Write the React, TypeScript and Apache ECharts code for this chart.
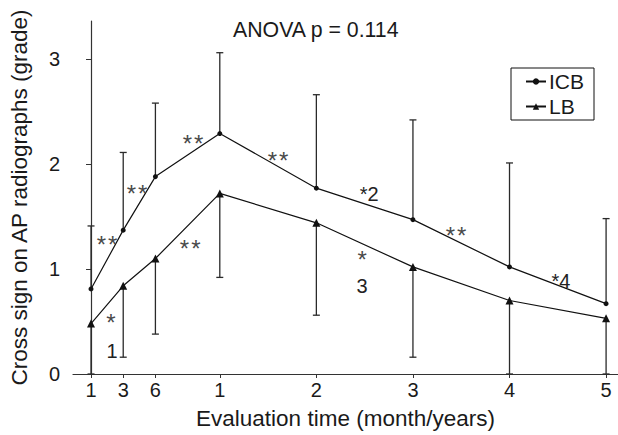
import React, { useEffect, useRef } from 'react';
import * as echarts from 'echarts';

// Evaluation times: 1, 3, 6 months, then 1..5 years
const timeLabels = ['1', '3', '6', '1', '2', '3', '4', '5'];
// slot of each evaluation time along the (non-linear) time axis
const timeSlots = [0, 1, 2, 4, 7, 10, 13, 16];

const icbMean = [0.81, 1.37, 1.88, 2.29, 1.77, 1.47, 1.02, 0.67];
const icbUpper = [1.41, 2.11, 2.58, 3.06, 2.66, 2.42, 2.01, 1.48];
const lbMean = [0.48, 0.84, 1.1, 1.72, 1.44, 1.02, 0.7, 0.53];
const lbLower = [0, 0.16, 0.38, 0.92, 0.56, 0.16, 0, 0];

const yTicks = [0, 1, 2, 3];

const annotationTexts = ['**', '**', '**', '**', '*2', '**', '*4', '*', '1', '**', '*', '3'];
const annotationX = [0.5, 1.43, 3.17, 5.81, 8.64, 11.34, 14.6, 0.62, 0.65, 3.08, 8.42, 8.42];
const annotationY = [1.23, 1.72, 2.2, 2.03, 1.71, 1.32, 0.89, 0.49, 0.22, 1.2, 1.09, 0.84];

const FONT = '"Liberation Sans", Arial, Helvetica, sans-serif';

export default function App() {
  const ref = useRef<HTMLDivElement>(null);

  useEffect(() => {
    if (!ref.current) return;
    const chart = echarts.init(ref.current, null, { renderer: 'svg' });

    const icbLine = timeSlots.map((s, i) => [s, icbMean[i]]);
    const lbLine = timeSlots.map((s, i) => [s, lbMean[i]]);
    const errData = [
      ...timeSlots.map((s, i) => [s, icbMean[i], icbUpper[i], 1]),
      ...timeSlots.map((s, i) => [s, lbLower[i], lbMean[i], 0]),
    ];
    const annData = annotationTexts.map((_, i) => [annotationX[i], annotationY[i], i]);

    const option: any = {
      animation: false,
      backgroundColor: '#fff',
      textStyle: { fontFamily: FONT },
      title: {
        text: 'ANOVA p = 0.114',
        left: 233,
        top: 19,
        padding: 0,
        textStyle: { fontSize: 21.3, fontWeight: 'normal', color: '#1a1a1a', fontFamily: FONT },
      },
      legend: {
        data: ['ICB', 'LB'],
        orient: 'vertical',
        left: 511,
        top: 68,
        padding: [3, 10, 3, 14],
        itemGap: 4,
        itemWidth: 20,
        itemHeight: 8,
        borderColor: '#111',
        borderWidth: 1,
        textStyle: { fontSize: 21, color: '#1a1a1a', fontFamily: FONT, padding: [0, 0, 0, -2] },
      },
      grid: { left: 73, right: 0, top: 21, bottom: 61, containLabel: false, outerBoundsMode: 'none' },
      xAxis: {
        type: 'value',
        min: -0.56,
        max: 16.37,
        name: 'Evaluation time (month/years)',
        nameLocation: 'middle',
        nameGap: 33,
        nameTextStyle: { fontSize: 22.5, color: '#1a1a1a', fontFamily: FONT },
        axisLine: { show: true, lineStyle: { color: '#333', width: 1.2 } },
        axisTick: { show: true, length: 4, customValues: timeSlots, lineStyle: { color: '#333' } },
        axisLabel: {
          customValues: timeSlots,
          margin: 6,
          fontSize: 20,
          color: '#1a1a1a',
          fontFamily: FONT,
          formatter: (v: number) => timeLabels[timeSlots.indexOf(v)] ?? '',
        },
        splitLine: { show: false },
      },
      yAxis: {
        type: 'value',
        min: 0,
        max: 3.362,
        name: 'Cross sign on AP radiographs (grade)',
        nameLocation: 'middle',
        nameGap: 42,
        nameTextStyle: { fontSize: 22.5, color: '#1a1a1a', fontFamily: FONT },
        axisLine: { show: true, lineStyle: { color: '#333', width: 1.2 } },
        axisTick: { show: true, length: 5, customValues: yTicks, lineStyle: { color: '#333' } },
        axisLabel: {
          customValues: yTicks,
          margin: 13,
          fontSize: 20,
          color: '#1a1a1a',
          fontFamily: FONT,
        },
        splitLine: { show: false },
      },
      series: [
        {
          type: 'custom',
          name: 'errors',
          clip: false,
          silent: true,
          z: 1,
          data: errData,
          encode: { x: 0, y: [1, 2] },
          renderItem: (params: any, api: any) => {
            const x = api.value(0);
            const lo = api.value(1);
            const hi = api.value(2);
            const capTop = api.value(3) === 1;
            const p1 = api.coord([x, lo]);
            const p2 = api.coord([x, hi]);
            const capY = capTop ? p2[1] : p1[1];
            const style = { stroke: '#2a2a2a', lineWidth: 1.3 };
            return {
              type: 'group',
              children: [
                { type: 'line', shape: { x1: p1[0], y1: p1[1], x2: p2[0], y2: p2[1] }, style },
                { type: 'line', shape: { x1: p1[0] - 3.5, y1: capY, x2: p1[0] + 3.5, y2: capY }, style },
              ],
            };
          },
        },
        {
          type: 'line',
          name: 'ICB',
          data: icbLine,
          symbol: 'circle',
          symbolSize: 5,
          z: 3,
          itemStyle: { color: '#111' },
          lineStyle: { color: '#111', width: 1.2 },
        },
        {
          type: 'line',
          name: 'LB',
          data: lbLine,
          symbol: 'triangle',
          symbolSize: 8,
          z: 3,
          itemStyle: { color: '#111' },
          lineStyle: { color: '#111', width: 1.2 },
        },
        {
          type: 'custom',
          name: 'annotations',
          clip: false,
          silent: true,
          z: 4,
          data: annData,
          encode: { x: 0, y: 1 },
          renderItem: (params: any, api: any) => {
            const p = api.coord([api.value(0), api.value(1)]);
            const txt = annotationTexts[api.value(2)];
            const onlyStars = /^\*+$/.test(txt);
            return {
              type: 'text',
              x: p[0],
              y: p[1],
              style: {
                text: onlyStars ? txt.split('').join('\u200A') : txt,
                fontSize: onlyStars ? 24 : 20,
                fontFamily: FONT,
                fill: onlyStars ? '#4a4a4a' : '#222',
                align: 'center',
                verticalAlign: 'middle',
              },
            };
          },
        },
      ],
    };

    chart.setOption(option);
    return () => chart.dispose();
  }, []);

  return (
    <div
      ref={ref}
      style={{ position: 'fixed', left: 0, top: 0, width: 618, height: 435, background: '#fff' }}
    />
  );
}
